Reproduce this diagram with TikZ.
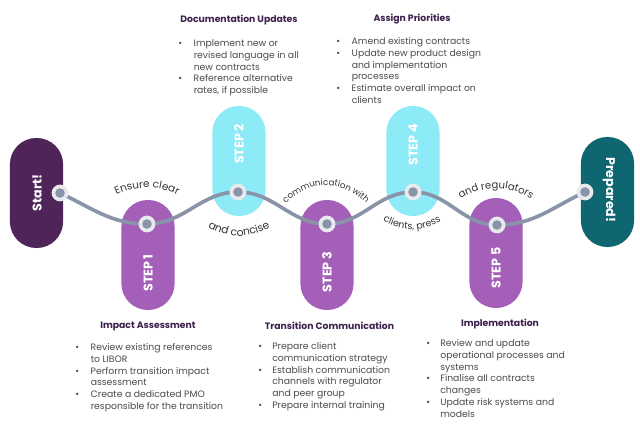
\documentclass[tikz,border=0pt]{standalone}
\usepackage{fontspec}
\setmainfont{Poppins}
\usepackage{tikz}
\usetikzlibrary{decorations.text}

\definecolor{startpurple}{HTML}{4E2459}
\definecolor{steppurple}{HTML}{A460B8}
\definecolor{stepcyan}{HTML}{8DEBF8}
\definecolor{endteal}{HTML}{0D6670}
\definecolor{wavegray}{HTML}{8A94A9}
\definecolor{ringgray}{HTML}{E8EAEE}
\definecolor{headpurple}{HTML}{3D1F4B}
\definecolor{bodygray}{HTML}{4A4A4A}
\definecolor{wordgray}{HTML}{333333}

\newcommand{\bpt}{\textbullet}

\tikzstyle{pill}=[rectangle, rounded corners=0.66cm, minimum width=1.33cm, minimum height=2.75cm, inner sep=0pt]
\tikzstyle{pilltext}=[text=white, font=\bfseries\fontsize{9}{10}\selectfont]
\tikzstyle{wave}=[line width=2.6pt, wavegray]
\tikzstyle{dot}=[circle, fill=ringgray, minimum size=0.42cm, inner sep=0pt,
  path picture={\fill[wavegray] (path picture bounding box.center) circle (0.12cm);}]
\tikzstyle{boxhead}=[text=headpurple, font=\bfseries\fontsize{6.6}{8}\selectfont]
\tikzstyle{boxbody}=[anchor=north west, inner sep=0pt, text=bodygray, font=\fontsize{6.6}{8.4}\selectfont]
\tikzset{wavetext/.style 2 args={
    decorate, decoration={text along path, text align=center, text color=wordgray,
      text={|\fontsize{#1}{9}\selectfont|#2}}
  }
}

\begin{document}
\begin{tikzpicture}[x=0.025cm, y=-0.025cm]
        \useasboundingbox (0,0) rectangle (640,432);
        % pills
        \node[pill, fill=startpurple] at (36.5,193) (start) {};
        \node[pill, fill=steppurple] at (148,255) (step1) {};
        \node[pill, fill=stepcyan] at (239,161) (step2) {};
        \node[pill, fill=steppurple] at (327,255) (step3) {};
        \node[pill, fill=stepcyan] at (413,161) (step4) {};
        \node[pill, fill=steppurple] at (496,253) (step5) {};
        \node[pill, fill=endteal] at (607.5,192) (prepared) {};
        \node[pilltext, rotate=90] at (37,193) (starttext) {Start!};
        \node[pilltext, rotate=90] at (148,273) (step1text) {STEP 1};
        \node[pilltext, rotate=90] at (239,144) (step2text) {STEP 2};
        \node[pilltext, rotate=90] at (327,272) (step3text) {STEP 3};
        \node[pilltext, rotate=90] at (413,145) (step4text) {STEP 4};
        \node[pilltext, rotate=90] at (496,268) (step5text) {STEP 5};
        \node[pilltext, rotate=-90] at (609,190) (preparedtext) {Prepared!};
        % the wave
        \coordinate (p0) at (60,193);
        \coordinate (p1) at (147,224);
        \coordinate (p2) at (238,192);
        \coordinate (p3) at (327,224);
        \coordinate (p4) at (413,192);
        \coordinate (p5) at (497,225);
        \coordinate (p6) at (585,192);
        \draw[wave] (p0) to[out=-25,in=180] (p1) to[out=0,in=180] (p2)
          to[out=0,in=180] (p3) to[out=0,in=180] (p4) to[out=0,in=180] (p5)
          to[out=0,in=205] (p6);
        \foreach \p in {0,...,6}
          \node[dot] (dot\p) at (p\p) {};
        \path[wavetext={7.4}{Ensure clear}] (100,205) .. controls (131,182) and (163,182) .. (194,205);
        \path[wavetext={7.6}{and concise}] (195,218) .. controls (224,242) and (254,242) .. (283,218);
        \path[wavetext={6.2}{communication with}] (276,213) .. controls (309,176) and (343,176) .. (376,213);
        \path[wavetext={6.8}{clients, press}] (367,209) .. controls (397,236) and (427,236) .. (457,209);
        \path[wavetext={7.2}{and regulators}] (446,210) .. controls (479,181) and (513,181) .. (546,210);
        % text blocks
        \node[boxhead] at (239,20) (dochead) {Documentation Updates};
        \node[boxbody] at (178,38) (docbody) {\begin{tabular}{@{}p{11pt}@{}l@{}}
          \bpt & Implement new or\\
               & revised language in all\\
               & new contracts\\
          \bpt & Reference alternative\\
               & rates, if possible
        \end{tabular}};
        \node[boxhead] at (412,19) (assignhead) {Assign Priorities};
        \node[boxbody] at (336,36) (assignbody) {\begin{tabular}{@{}p{11pt}@{}l@{}}
          \bpt & Amend existing contracts\\
          \bpt & Update new product design\\
               & and implementation\\
               & processes\\
          \bpt & Estimate overall impact on\\
               & clients
        \end{tabular}};
        \node[boxhead] at (148,326) (impacthead) {Impact Assessment};
        \node[boxbody] at (75,342) (impactbody) {\begin{tabular}{@{}p{11pt}@{}l@{}}
          \bpt & Review existing references\\
               & to LIBOR\\
          \bpt & Perform transition impact\\
               & assessment\\
          \bpt & Create a dedicated PMO\\
               & responsible for the transition
        \end{tabular}};
        \node[boxhead] at (329.5,326) (transhead) {Transition Communication};
        \node[boxbody] at (258,341) (transbody) {\begin{tabular}{@{}p{10pt}@{}l@{}}
          \bpt & Prepare client\\
               & communication strategy\\
          \bpt & Establish communication\\
               & channels with regulator\\
               & and peer group\\
          \bpt & Prepare internal training
        \end{tabular}};
        \node[boxhead] at (500,324) (implhead) {Implementation};
        \node[boxbody] at (426,338) (implbody) {\begin{tabular}{@{}p{10pt}@{}l@{}}
          \bpt & Review and update\\
               & operational processes and\\
               & systems\\
          \bpt & Finalise all contracts\\
               & changes\\
          \bpt & Update risk systems and\\
               & models
        \end{tabular}};
      \end{tikzpicture}
\end{document}
